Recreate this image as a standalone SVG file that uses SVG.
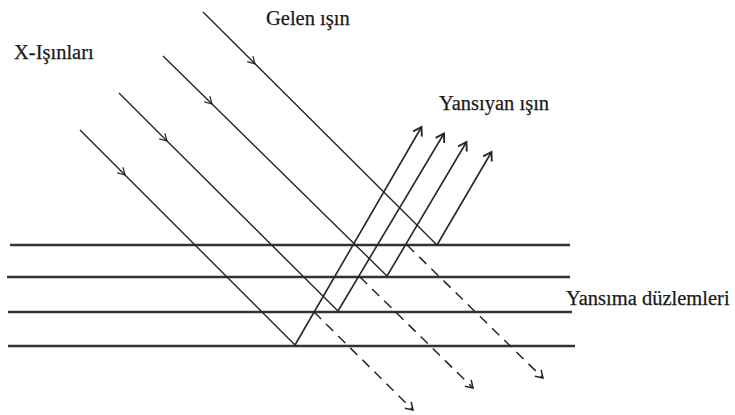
<svg xmlns="http://www.w3.org/2000/svg" width="735" height="415" viewBox="0 0 735 415">
<style>
.plane{stroke:#333333;stroke-width:2.4;fill:none}
.ray{stroke:#262626;stroke-width:1.4;fill:none}
.refl{stroke:#262626;stroke-width:1.6;fill:none;marker-end:url(#ah)}
.inc{marker-mid:url(#mid)}
.trans{stroke:#262626;stroke-width:1.5;fill:none;stroke-dasharray:10 7;marker-end:url(#ahd)}
.lbl{font-family:"Liberation Serif","Times New Roman",serif;font-size:20.5px;fill:#1a1a1a;stroke:#1a1a1a;stroke-width:0.25}
</style>
<defs>
<marker id="ah" markerUnits="userSpaceOnUse" markerWidth="20" markerHeight="20" refX="10" refY="10" orient="auto" overflow="visible">
<path d="M2,5 L10,10 L2,15" fill="none" stroke="#262626" stroke-width="1.9"/>
</marker>
<marker id="ahd" markerUnits="userSpaceOnUse" markerWidth="20" markerHeight="20" refX="10" refY="10" orient="auto" overflow="visible">
<path d="M3,5.5 L10,10 L3,14.5" fill="none" stroke="#262626" stroke-width="1.5"/>
</marker>
<marker id="mid" markerUnits="userSpaceOnUse" markerWidth="20" markerHeight="20" refX="10" refY="10" orient="auto" overflow="visible">
<path d="M3,6 L10,10 L3,14" fill="none" stroke="#262626" stroke-width="1.2"/>
</marker>
</defs>
<rect width="735" height="415" fill="#ffffff"/>
<g id="planes">
<line class="plane" x1="10" y1="245" x2="570" y2="245"/>
<line class="plane" x1="7" y1="277" x2="570" y2="277"/>
<line class="plane" x1="8" y1="312" x2="572" y2="312"/>
<line class="plane" x1="8" y1="346" x2="575" y2="346"/>
</g>
<g id="connectors">
<g id="incident">
<path class="ray inc" d="M203,12 L255,63.8 L437,245"/>
<path class="ray inc" d="M163,56 L212,104 L387,276"/>
<path class="ray inc" d="M119,93 L167,141 L338,311"/>
<path class="ray inc" d="M80,130 L125,175 L295,345"/>
</g>
<g id="reflected">
<line class="refl" x1="437" y1="245" x2="491.5" y2="152"/>
<line class="refl" x1="387" y1="276" x2="466.5" y2="142"/>
<line class="refl" x1="338" y1="311" x2="444" y2="133.5"/>
<line class="refl" x1="295" y1="345" x2="421.5" y2="127"/>
</g>
<g id="transmitted">
<line class="trans" x1="407" y1="245" x2="543" y2="378"/>
<line class="trans" x1="360" y1="277" x2="473" y2="388"/>
<line class="trans" x1="314" y1="312" x2="413" y2="410"/>
</g>
</g>
<g id="labels">
<text class="lbl" x="14" y="59">X-Işınları</text>
<text class="lbl" x="266" y="25">Gelen ışın</text>
<text class="lbl" x="439" y="110">Yansıyan ışın</text>
<text class="lbl" x="566" y="305">Yansıma düzlemleri</text>
</g>
</svg>
